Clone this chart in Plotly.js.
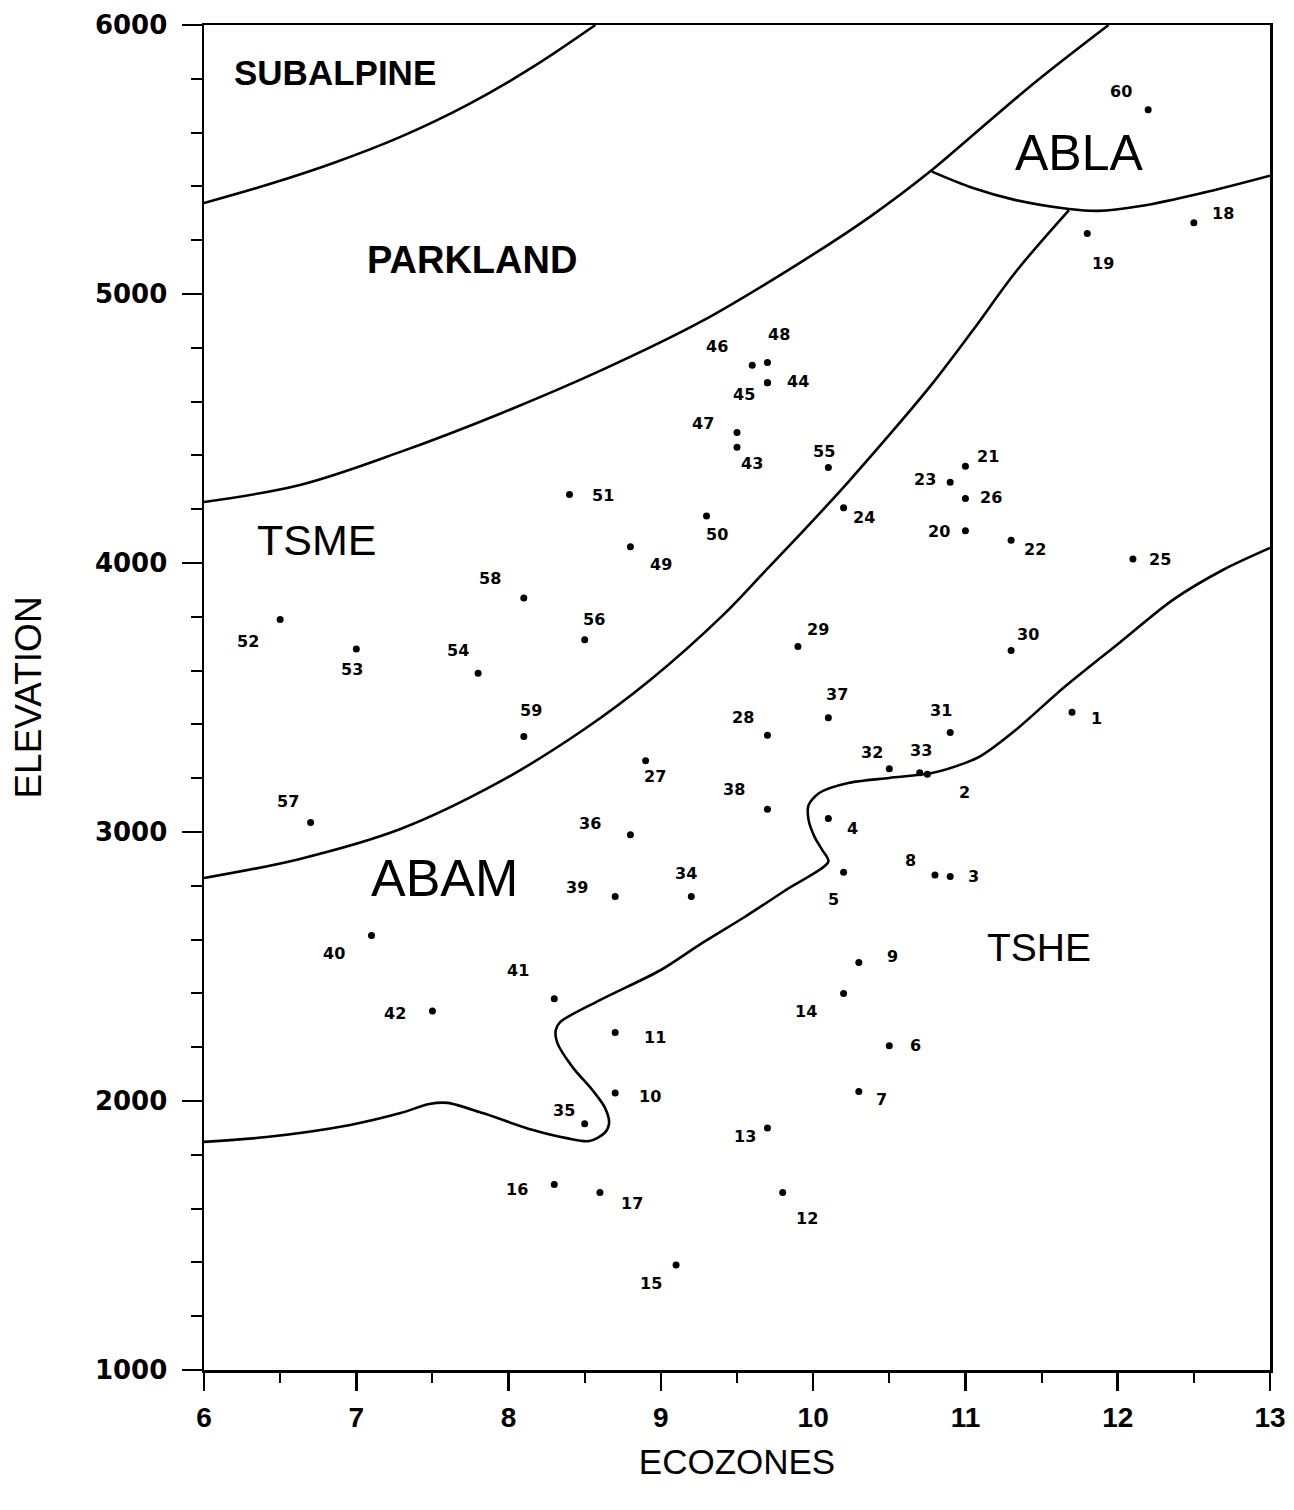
<!DOCTYPE html>
<html><head><meta charset="utf-8">
<script src="https://cdn.plot.ly/plotly-3.0.1.min.js"></script>
<style>html,body{margin:0;padding:0;background:#fff}#chart{width:1294px;height:1510px}</style>
</head><body><div id="chart"></div>
<script>
// ---- plot (site) data ----
const plotIds = [1,2,3,4,5,6,7,8,9,10,11,12,13,14,15,16,17,18,19,20,21,22,23,24,25,26,27,28,29,30,
                 31,32,33,34,35,36,37,38,39,40,41,42,43,44,45,46,47,48,49,50,51,52,53,54,55,56,57,58,59,60];
const plotEcozone = [11.7,10.75,10.9,10.1,10.2,10.5,10.3,10.8,10.3,8.7,8.7,9.8,9.7,10.2,9.1,8.3,8.6,12.5,11.8,11.0,
                     11.0,11.3,10.9,10.2,12.1,11.0,8.9,9.7,9.9,11.3,10.9,10.5,10.7,9.2,8.5,8.8,10.1,9.7,8.7,7.1,
                     8.3,7.5,9.5,9.7,9.7,9.6,9.5,9.7,8.8,9.3,8.4,6.5,7.0,7.8,10.1,8.5,6.7,8.1,8.1,12.2];
const plotElevation = [3445,3215,2835,3050,2850,2205,2035,2840,2515,2030,2255,1660,1900,2400,1390,1690,1660,5265,5225,4120,
                       4360,4085,4300,4205,4015,4240,3265,3360,3690,3675,3370,3235,3220,2760,1915,2990,3425,3085,2760,2615,
                       2380,2335,4430,4670,4670,4735,4485,4745,4060,4175,4255,3790,3680,3590,4355,3715,3035,3870,3355,5685];
// label placement offsets (pixels) relative to each dot
const labelDx = [24,37,23,24,-10,26,23,-24,34,35,40,24,-22,-38,-25,-37,32,29,16,-26,
                 23,24,-25,20,27,26,9,-24,20,17,-9,-17,1,-5,-21,-40,9,-33,-38,-38,
                 -36,-37,15,31,-23,-35,-34,12,31,10,34,-32,-4,-20,-4,9,-23,-34,7,-27];
const labelDy = [-6,-18,0,-10,-27,0,-8,15,6,-4,-5,-26,-9,-18,-18,-5,-11,9,-30,-1,
                 10,-9,3,-10,-1,1,-16,18,17,16,22,16,22,23,13,11,23,20,9,-18,
                 28,-3,-16,1,-12,19,9,28,-18,-19,-1,-22,-20,23,16,20,21,19,26,18];

// ---- zone boundary curves ----
const subalpineX = [6.0,6.41,6.85,7.29,7.73,8.16,8.57];
const subalpineY = [5338,5405,5487,5584,5703,5844,6000];
const parklandX = [6.0,6.63,7.29,7.94,8.60,9.26,9.91,10.37,10.78,11.05,11.46,11.94];
const parklandY = [4227,4290,4413,4554,4714,4896,5115,5286,5461,5591,5788,6000];
const ablaX = [10.78,11.05,11.33,11.68,11.87,12.15,12.55,13.0];
const ablaY = [5455,5394,5349,5316,5309,5327,5375,5440];
const tsmeX = [6.0,6.63,7.29,7.94,8.49,8.93,9.41,9.68,9.96,10.23,10.50,10.78,11.05,11.33,11.68];
const tsmeY = [2829,2900,3011,3186,3379,3565,3807,3967,4134,4301,4476,4665,4866,5082,5312];
const abamX = [13.0,12.69,12.36,12.01,11.65,11.33,11.11,11.0,10.78,10.5,10.23,10.04,9.97,9.97,10.01,10.06,10.10,
               9.82,9.55,9.27,9.0,8.6,8.34,8.31,8.32,8.42,8.55,8.63,8.66,8.63,8.53,8.38,8.16,7.83,7.6,7.48,7.29,6.96,6.41,6.0];
const abamY = [4056,3974,3862,3703,3539,3379,3286,3257,3219,3201,3182,3145,3100,3045,2981,2933,2890,
               2784,2684,2587,2487,2375,2294,2264,2216,2126,2041,1978,1918,1881,1851,1862,1892,1955,1993,1989,1955,1911,1866,1848];

// ---- zone names ----
const zoneNames = ['SUBALPINE','PARKLAND','TSME','ABLA','ABAM','TSHE'];
const zoneX = [6.86,7.76,6.74,11.75,7.58,11.48];
const zoneY = [5825,5126,4086,5524,2829,2569];

const SANS = '"Liberation Sans", Arial, sans-serif';
const zoneFonts = [
  {family: SANS, size: 35, weight: 'bold'},
  {family: SANS, size: 38, weight: 'bold'},
  {family: SANS, size: 43},
  {family: SANS, size: 50},
  {family: SANS, size: 52},
  {family: SANS, size: 39}
];

const lineStyle = {color: '#000', width: 2.6, shape: 'spline', smoothing: 1};
const traces = [
  {x: subalpineX, y: subalpineY, mode: 'lines', line: lineStyle, hoverinfo: 'skip'},
  {x: parklandX, y: parklandY, mode: 'lines', line: lineStyle, hoverinfo: 'skip'},
  {x: ablaX, y: ablaY, mode: 'lines', line: lineStyle, hoverinfo: 'skip'},
  {x: tsmeX, y: tsmeY, mode: 'lines', line: lineStyle, hoverinfo: 'skip'},
  {x: abamX, y: abamY, mode: 'lines', line: Object.assign({}, lineStyle, {smoothing: 0.8}), hoverinfo: 'skip'},
  {x: plotEcozone, y: plotElevation, mode: 'markers', text: plotIds.map(String),
   marker: {color: '#000', size: 7}}
];

const annotations = [];
plotIds.forEach((id, i) => {
  annotations.push({
    x: plotEcozone[i], y: plotElevation[i], text: String(id), showarrow: false,
    xshift: labelDx[i], yshift: labelDy[i], xanchor: 'center', yanchor: 'middle',
    font: {family: '"DejaVu Sans", sans-serif', size: 16, weight: 'bold', color: '#000'}
  });
});
zoneNames.forEach((name, i) => {
  annotations.push({
    x: zoneX[i], y: zoneY[i], text: name, showarrow: false,
    xanchor: 'center', yanchor: 'middle',
    font: Object.assign({color: '#000'}, zoneFonts[i])
  });
});

const layout = {
  width: 1294, height: 1510,
  margin: {l: 204, r: 24, t: 25, b: 140},
  paper_bgcolor: '#fff', plot_bgcolor: '#fff',
  showlegend: false,
  xaxis: {
    range: [6, 13], dtick: 1, tick0: 6, showgrid: false, zeroline: false,
    showline: true, mirror: true, linecolor: '#000', linewidth: 2.5,
    ticks: 'outside', ticklen: 18, tickwidth: 2.5, tickcolor: '#000',
    minor: {dtick: 0.5, ticks: 'outside', ticklen: 10, tickwidth: 2, tickcolor: '#000', showgrid: false},
    ticklabelstandoff: 3,
    tickfont: {family: SANS, size: 28, weight: 'bold', color: '#000'},
    title: {text: 'ECOZONES', standoff: 18, font: {family: SANS, size: 35, color: '#000'}}
  },
  yaxis: {
    range: [1000, 6000], dtick: 1000, tick0: 1000, showgrid: false, zeroline: false,
    showline: true, mirror: true, linecolor: '#000', linewidth: 2.5,
    ticks: 'outside', ticklen: 20, tickwidth: 2.5, tickcolor: '#000',
    minor: {dtick: 200, ticks: 'outside', ticklen: 11, tickwidth: 2, tickcolor: '#000', showgrid: false},
    ticklabelstandoff: 9,
    tickfont: {family: '"DejaVu Sans", sans-serif', size: 26, weight: 'bold', color: '#000'},
    title: {text: 'ELEVATION', standoff: 42, font: {family: SANS, size: 37, color: '#000'}}
  },
  annotations: annotations
};

Plotly.newPlot('chart', traces, layout, {displayModeBar: false, staticPlot: true});
</script>
</body></html>
